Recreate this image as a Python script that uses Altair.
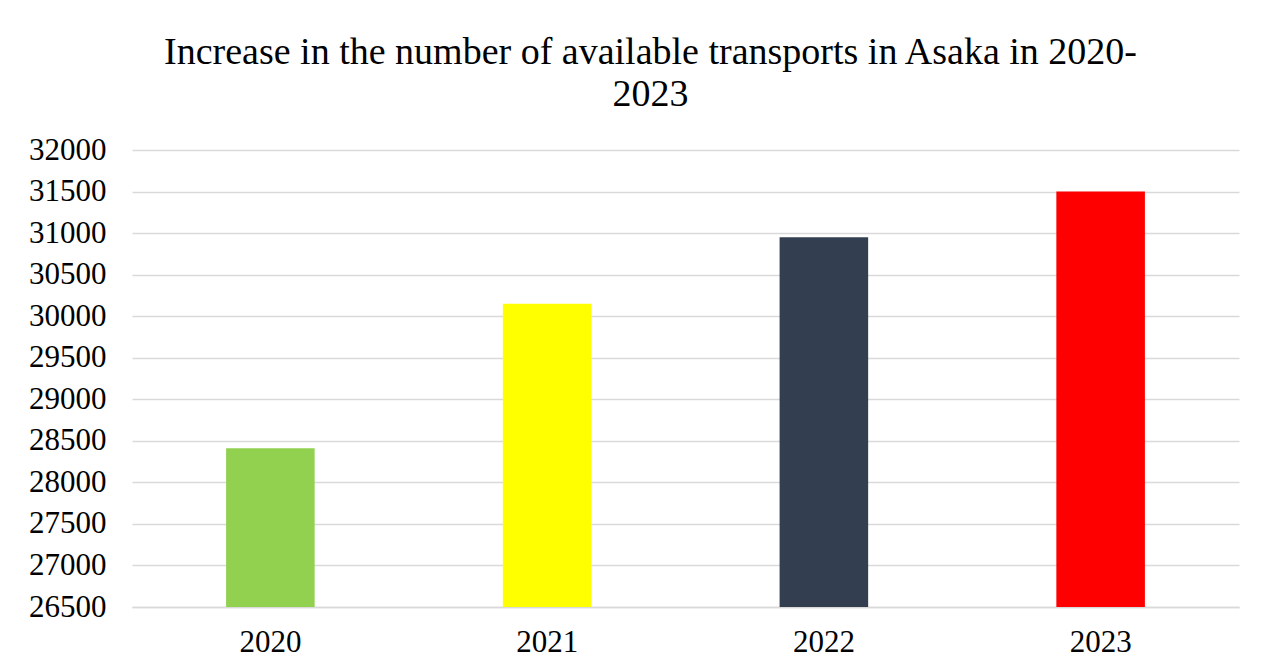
import altair as alt
import pandas as pd

years = ["2020", "2021", "2022", "2023"]
values = [28410, 30150, 30950, 31500]
colors = ["#92d050", "#ffff00", "#333f50", "#ff0000"]

df = pd.DataFrame({"year": years, "value": values, "color": colors})

bars = alt.Chart(df).mark_bar(clip=True).encode(
    x=alt.X("year:N", sort=years, title=None,
            scale=alt.Scale(paddingInner=0.68, paddingOuter=0.34),
            axis=alt.Axis(labelAngle=0, labelFont="Liberation Serif", labelFontSize=31,
                          labelColor="#000000", labelPadding=20, ticks=False,
                          domain=True, domainColor="#d9d9d9", domainWidth=1.5, grid=False)),
    y=alt.Y("value:Q", title=None,
            scale=alt.Scale(domain=[26500, 32000], nice=False, zero=False),
            axis=alt.Axis(values=list(range(26500, 32001, 500)), format="d",
                          labelFont="Liberation Serif",
                          labelFontSize=31, labelColor="#000000", labelPadding=26,
                          ticks=False, domain=False, gridColor="#d9d9d9", gridWidth=1.5,
                          labelBaseline="middle")),
    color=alt.Color("color:N", scale=None),
)

chart = bars.properties(
    width=1107, height=457,
    title=alt.TitleParams(
        text=["Increase in the number of available transports in Asaka in 2020-", "2023"],
        font="Liberation Serif", fontSize=38, fontWeight="normal", color="#000000",
        anchor="middle", dx=-35, offset=20, lineHeight=42,
    ),
    padding={"left": 124, "top": 142, "right": 15, "bottom": 64},
    autosize=alt.AutoSizeParams(type="none"),
).configure_view(stroke=None)

chart.save("out.html", embed_options={"renderer": "svg", "actions": False})
